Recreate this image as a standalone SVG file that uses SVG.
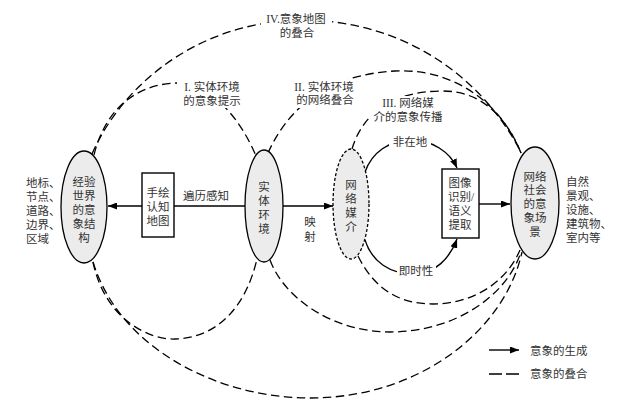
<svg xmlns="http://www.w3.org/2000/svg" width="622" height="413" viewBox="0 0 622 413">
<style>
text{font-family:"Liberation Serif","Noto Sans CJK SC",serif;font-size:11.5px;fill:#333;dominant-baseline:central;}
.c{text-anchor:middle;}
.node{fill:#ececec;stroke:#000;stroke-width:1.3;}
.box{fill:#fff;stroke:#000;stroke-width:1.4;}
.dash{fill:none;stroke:#000;stroke-width:1.3;stroke-dasharray:8.5 4.5;}
.solid{fill:none;stroke:#000;stroke-width:1.4;}
</style>
<defs>
<marker id="ah" viewBox="0 0 9 7" refX="9" refY="3.5" markerWidth="9" markerHeight="7" markerUnits="userSpaceOnUse" orient="auto"><path d="M0,0 L9,3.5 L0,7 z" fill="#000"/></marker>
<mask id="lbl" maskUnits="userSpaceOnUse" x="0" y="0" width="622" height="413">
<rect x="0" y="0" width="622" height="413" fill="#fff"/>
<rect x="261" y="8" width="71" height="34" fill="#000"/>
<rect x="177" y="78" width="69" height="30" fill="#000"/>
<rect x="287" y="79" width="74" height="29" fill="#000"/>
<rect x="371" y="96" width="75" height="29" fill="#000"/>
<rect x="389" y="133" width="42" height="18" fill="#000"/>
<rect x="397" y="262" width="39" height="18" fill="#000"/>
</mask>
</defs>

<g id="connectors">
<g mask="url(#lbl)">
<path class="dash" d="M94,155 C105,110 135,85 175,83 C212,84 240,118 256,156"/>
<path class="dash" d="M92,154 C120,90 190,25 295,20 C390,18 475,65 521,152"/>
<path class="dash" d="M268,153 C285,115 320,75 395,71 C450,68 500,100 521,153"/>
<path class="dash" d="M352,149 C362,115 390,92 440,91 C480,90 505,115 521,153"/>
<path class="dash" d="M93,262 C105,320 150,340 175,339 C215,338 245,310 257,259"/>
<path class="dash" d="M93,262 C120,350 220,398 310,398 C420,398 505,330 522,252"/>
<path class="dash" d="M270,260 C285,300 335,332 390,332 C450,332 505,300 521,252"/>
<path class="dash" d="M358,256 C375,290 400,304 433,304 C470,304 505,285 520,250"/>
<path class="solid" d="M365,172 C372,152 390,140 411,140 C432,140 450,152 457,168" marker-end="url(#ah)"/>
<path class="solid" d="M365,240 C372,262 390,274 414,274 C435,274 450,258 457,239" marker-end="url(#ah)"/>
</g>
<path class="solid" d="M245,206 L174,206"/>
<path class="solid" d="M142,206 L108,206" marker-end="url(#ah)"/>
<path class="solid" d="M283,206 L333,206" marker-end="url(#ah)"/>
<path class="solid" d="M479,204 L510,204" marker-end="url(#ah)"/>
</g>

<g id="n-e1">
<ellipse class="node" cx="84" cy="207" rx="23" ry="56"/>
<text class="c" x="84" y="182">经验</text>
<text class="c" x="84" y="196">世界</text>
<text class="c" x="84" y="210">的意</text>
<text class="c" x="84" y="224">象结</text>
<text class="c" x="84" y="238">构</text>
</g>
<g id="t-left">
<text x="26" y="183">地标、</text>
<text x="26" y="197">节点、</text>
<text x="26" y="211">道路、</text>
<text x="26" y="225">边界、</text>
<text x="26" y="239">区域</text>
</g>
<g id="n-box1">
<rect class="box" x="142" y="173" width="32" height="64"/>
<text class="c" x="158" y="193">手绘</text>
<text class="c" x="158" y="207">认知</text>
<text class="c" x="158" y="221">地图</text>
</g>
<text class="c" x="206" y="196">遍历感知</text>
<g id="n-e2">
<ellipse class="node" cx="264" cy="206" rx="19" ry="56"/>
<text class="c" x="264" y="187">实</text>
<text class="c" x="264" y="201">体</text>
<text class="c" x="264" y="215">环</text>
<text class="c" x="264" y="229">境</text>
</g>
<text class="c" x="310" y="222">映</text>
<text class="c" x="310" y="237">射</text>
<g id="n-e3">
<ellipse cx="351" cy="204" rx="18" ry="55" fill="#ececec" stroke="#000" stroke-width="1.3" stroke-dasharray="3 2"/>
<text class="c" x="351" y="185">网</text>
<text class="c" x="351" y="199">络</text>
<text class="c" x="351" y="213">媒</text>
<text class="c" x="351" y="227">介</text>
</g>
<text class="c" x="410" y="142">非在地</text>
<text class="c" x="416" y="271">即时性</text>
<g id="n-box2">
<rect class="box" x="442" y="169" width="37" height="69"/>
<text class="c" x="460" y="183">图像</text>
<text class="c" x="461" y="197">识别/</text>
<text class="c" x="460" y="211">语义</text>
<text class="c" x="460" y="225">提取</text>
</g>
<g id="n-e4">
<ellipse class="node" cx="535" cy="203" rx="24" ry="56"/>
<text class="c" x="535" y="177">网络</text>
<text class="c" x="535" y="190">社会</text>
<text class="c" x="535" y="204">的意</text>
<text class="c" x="535" y="218">象场</text>
<text class="c" x="535" y="232">景</text>
</g>
<g id="t-right">
<text x="566" y="182">自然</text>
<text x="566" y="196">景观、</text>
<text x="566" y="210">设施、</text>
<text x="566" y="224">建筑物、</text>
<text x="566" y="238">室内等</text>
</g>
<g id="arc-labels">
<text class="c" x="296" y="19">IV.意象地图</text>
<text class="c" x="297" y="33">的叠合</text>
<text class="c" x="212" y="87">I. 实体环境</text>
<text class="c" x="212" y="101">的意象提示</text>
<text class="c" x="324" y="87">II. 实体环境</text>
<text class="c" x="325" y="100">的网络叠合</text>
<text class="c" x="408" y="103">III. 网络媒</text>
<text class="c" x="408" y="117">介的意象传播</text>
</g>
<g id="legend">
<path class="solid" d="M489,350 L519,350" marker-end="url(#ah)" stroke-width="1.2"/>
<text x="530" y="351">意象的生成</text>
<path d="M489,374 L519,374" fill="none" stroke="#000" stroke-width="1.3" stroke-dasharray="13 4"/>
<text x="530" y="374">意象的叠合</text>
</g>
</svg>
